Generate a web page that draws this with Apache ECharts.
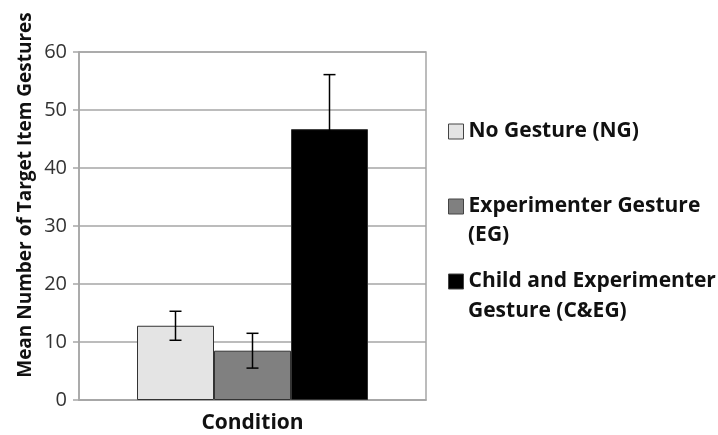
<!DOCTYPE html>
<html>
<head>
<meta charset="utf-8">
<script src="https://cdn.jsdelivr.net/npm/echarts@6/dist/echarts.min.js"></script>
<style>
  html, body { margin: 0; padding: 0; background: #fff; }
  #chart { width: 718px; height: 435px; }
</style>
</head>
<body>
<div id="chart"></div>
<script>
// Mean gestures per condition, with error bars
const categories = ['Condition'];
const seriesNames = ['No Gesture (NG)', 'Experimenter Gesture (EG)', 'Child and Experimenter Gesture (C&EG)'];
const legendLines = [
  ['No Gesture (NG)'],
  ['Experimenter Gesture', '(EG)'],
  ['Child and Experimenter', 'Gesture (C&EG)']
];
const means = [12.8, 8.5, 46.7];
const errors = [2.5, 3.0, 9.4];
const barColors = ['#e4e4e4', '#808080', '#000000'];
const yMin = 0, yMax = 60, yStep = 10;

const FONT = '"Open Sans", "DejaVu Sans", sans-serif';
const BAR_W = 77;

const chart = echarts.init(document.getElementById('chart'), null, { renderer: 'canvas' });

const barSeries = seriesNames.map((name, i) => ({
  name: name,
  type: 'bar',
  barWidth: BAR_W,
  barGap: '0%',
  data: [means[i]],
  itemStyle: { color: barColors[i], borderColor: '#333', borderWidth: 1 },
  z: 2
}));

const errData = means.map((m, i) => [0, m - errors[i], m + errors[i], i]);

const errorSeries = {
  type: 'custom',
  name: 'error',
  data: errData,
  encode: { x: 0, y: [1, 2] },
  z: 5,
  renderItem: function (params, api) {
    const lo = api.coord([api.value(0), api.value(1)]);
    const hi = api.coord([api.value(0), api.value(2)]);
    const x = lo[0] + (api.value(3) - (seriesNames.length - 1) / 2) * BAR_W;
    const cap = 6;
    const style = { stroke: '#000', lineWidth: 1.5, fill: null };
    return {
      type: 'group',
      children: [
        { type: 'line', shape: { x1: x, y1: lo[1], x2: x, y2: hi[1] }, style: style },
        { type: 'line', shape: { x1: x - cap, y1: hi[1], x2: x + cap, y2: hi[1] }, style: style },
        { type: 'line', shape: { x1: x - cap, y1: lo[1], x2: x + cap, y2: lo[1] }, style: style }
      ]
    };
  }
};

const textStyleLegend = { fontFamily: FONT, fontSize: 21, fontWeight: 'bold', color: '#111' };

const option = {
  backgroundColor: '#fff',
  animation: false,
  grid: {
    left: 79, right: 292, top: 52, bottom: 35,
    show: true, borderColor: '#a6a6a6', borderWidth: 1.5, backgroundColor: 'transparent'
  },
  legend: {
    orient: 'vertical',
    left: 448,
    top: 121,
    padding: 0,
    itemWidth: 15,
    itemHeight: 15,
    itemGap: 54,
    icon: 'rect',
    data: seriesNames,
    selectedMode: false,
    itemStyle: { borderColor: '#444', borderWidth: 1 },
    formatter: function (name) {
      return legendLines[seriesNames.indexOf(name)][0];
    },
    textStyle: Object.assign({ lineHeight: 21 }, textStyleLegend)
  },
  graphic: [
    { type: 'text', left: 468, top: 225, style: Object.assign({ text: legendLines[1][1] }, textStyleLegend, { fill: '#111' }) },
    { type: 'text', left: 468, top: 301, style: Object.assign({ text: legendLines[2][1] }, textStyleLegend, { fill: '#111' }) }
  ],
  xAxis: {
    type: 'category',
    data: categories,
    axisLine: { show: true, lineStyle: { color: '#a6a6a6', width: 1.5 } },
    axisTick: { show: false },
    axisLabel: { margin: 13, fontFamily: FONT, fontSize: 21, fontWeight: 'bold', color: '#111' },
    splitLine: { show: false }
  },
  yAxis: {
    type: 'value',
    min: yMin, max: yMax, interval: yStep,
    name: 'Mean Number of Target Item Gestures',
    nameLocation: 'middle',
    nameRotate: 90,
    nameGap: 44,
    nameTextStyle: { fontFamily: FONT, fontSize: 19, fontWeight: 'bold', color: '#111', padding: [0, 0, 0, 62] },
    axisLine: { show: true, lineStyle: { color: '#a6a6a6', width: 1.5 } },
    axisTick: { show: true, length: 6, lineStyle: { color: '#a6a6a6', width: 1.5 } },
    axisLabel: { margin: 12, fontFamily: FONT, fontSize: 20, color: '#333' },
    splitLine: { show: true, lineStyle: { color: '#a6a6a6', width: 1.5 } }
  },
  series: barSeries.concat([errorSeries])
};

chart.setOption(option);
</script>
</body>
</html>
